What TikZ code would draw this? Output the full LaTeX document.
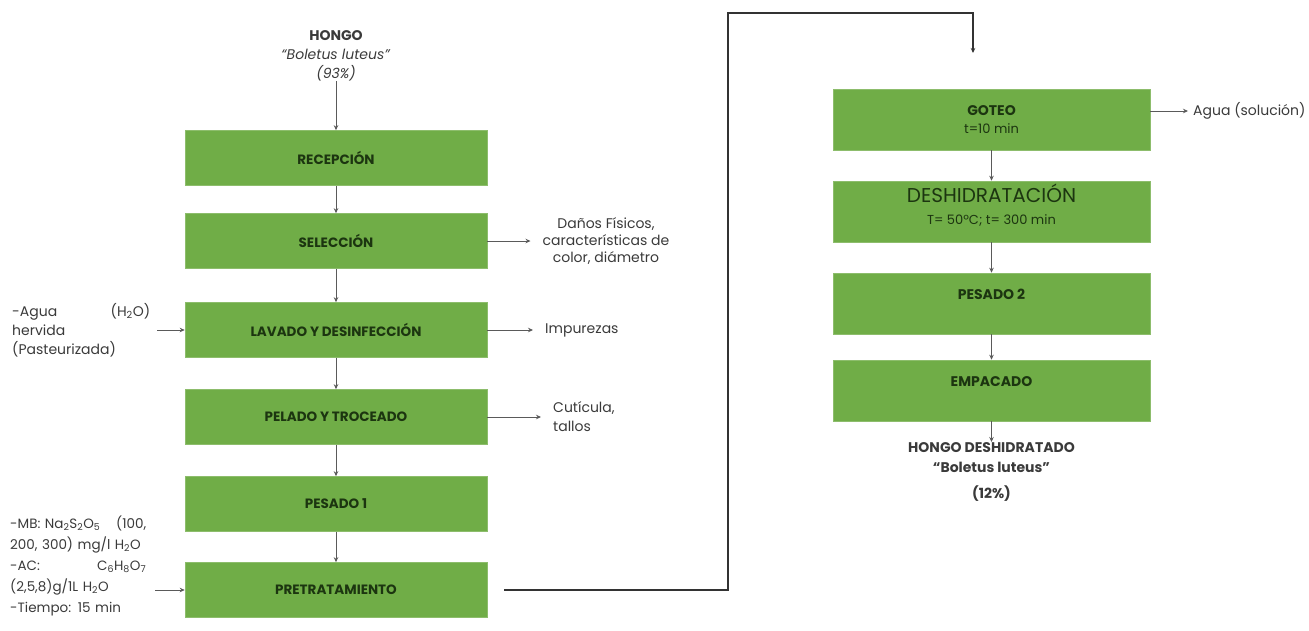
\documentclass[tikz,border=0pt]{standalone}
\usepackage{fontspec}
\setmainfont{Poppins}
\usetikzlibrary{arrows.meta}
\definecolor{procgreen}{HTML}{70AD47}
\definecolor{proctext}{HTML}{1C3510}
\definecolor{notegray}{HTML}{3A3A3A}
\definecolor{flowgray}{HTML}{5A5A5A}
\tikzset{>={Stealth[length=5pt,width=4.5pt]}}
\tikzset{
  procbox/.style={rectangle, fill=procgreen, draw=procgreen!80!white, line width=0.6pt,
    minimum width=302pt, minimum height=55pt, inner sep=0pt,
    font=\fontsize{13.5}{16}\selectfont\bfseries, text=proctext},
  dryrbox/.style={rectangle, fill=procgreen, draw=procgreen!80!white, line width=0.6pt,
    minimum width=317pt, inner sep=0pt, text height=26pt, text depth=35pt, align=center,
    font=\fontsize{14}{18}\selectfont\bfseries, text=proctext},
  note/.style={inner sep=0pt, text=notegray, font=\fontsize{14}{19}\selectfont},
  flow/.style={->, draw=flowgray, line width=0.8pt},
  outflow/.style={flow, shorten >=12pt},
  loopline/.style={->, draw=black!80, line width=1.3pt}
}

\begin{document}
\begin{tikzpicture}[x=1pt, y=-1pt]
    \useasboundingbox (0,0) rectangle (1309,630);
    % left column
    \node[note, align=center] (hongo) at (336,56)
      {\textbf{HONGO}\\\textit{“Boletus luteus”}\\\textit{(93\%)}};
    \node[procbox] (rec)  at (336,158) {RECEPCIÓN};
    \node[procbox] (sel)  at (336,241) {SELECCIÓN};
    \node[procbox] (lav)  at (336,330) {LAVADO Y DESINFECCIÓN};
    \node[procbox] (pel)  at (336,417) {PELADO Y TROCEADO};
    \node[procbox] (pes)  at (336,504) {PESADO 1};
    \node[procbox] (pret) at (336,590) {PRETRATAMIENTO};
    \draw[flow] (hongo) -- (rec);
    \foreach \a/\b in {rec/sel, sel/lav, lav/pel, pel/pes, pes/pret}
      \draw[flow] (\a) -- (\b);
  % inputs and outputs
    \node[note, align=center, font=\fontsize{14}{17}\selectfont] (danos) at (606,241)
      {Daños Físicos,\\características de\\color, diámetro};
    \node[note, anchor=west] (impur) at (545,330) {Impurezas};
    \node[note, anchor=west, align=left] (cuti) at (553,417) {Cutícula,\\tallos};
    \node[note, anchor=west, text width=138pt, align=left] (agua) at (12,330)
      {-Agua\hfill(H\textsubscript{2}O)\\hervida\\(Pasteurizada)};
    \node[note, anchor=west, text width=136pt, align=left, font=\fontsize{13.5}{21}\selectfont]
      (pretin) at (10,566)
      {-MB: Na\textsubscript{2}S\textsubscript{2}O\textsubscript{5}\hfill(100,\\
       200, 300) mg/l H\textsubscript{2}O\\
       -AC:\hfill C\textsubscript{6}H\textsubscript{8}O\textsubscript{7}\\
       (2,5,8)g/1L H\textsubscript{2}O\\
       -Tiempo: 15 min};
    \draw[outflow] (sel.east) -- (sel.east -| danos.west);
    \draw[outflow] (lav.east) -- (lav.east -| impur.west);
    \draw[outflow] (pel.east) -- (pel.east -| cuti.west);
    \draw[flow] ([xshift=7pt]agua.east) -- (lav.west);
    \draw[flow] ([xshift=9pt]pretin.east |- pret.west) -- (pret.west);
    % link to the second column
    \coordinate (loopturn) at (728,13);
    \coordinate (dryin) at (973,53);
    \draw[loopline] ([xshift=17pt]pret.east) -| (loopturn) -| (dryin);
    % right column
    \node[dryrbox, text height=44pt, text depth=17pt] (gote) at (991.5,119.5)
      {GOTEO\\{\mdseries\fontsize{13}{18}\selectfont t=10 min}};
    \node[dryrbox, text height=43pt, text depth=18pt, font=\fontsize{13}{22}\selectfont]
      (desh) at (991.5,211.5)
      {{\fontsize{20}{22}\selectfont DESHIDRATACIÓN}\\T= 50ºC; t= 300 min};
    \node[dryrbox] (pes2) at (991.5,303.5) {PESADO 2};
    \node[dryrbox] (emp)  at (991.5,390.5) {EMPACADO};
    \node[note, anchor=north, align=center, font=\fontsize{14}{20}\selectfont\bfseries]
      (hdes) at (991.5,442)
      {HONGO DESHIDRATADO\\“Boletus luteus”\\[6pt](12\%)};
    \node[note, anchor=west] (aguasol) at (1193,111) {Agua (solución)};
    \foreach \a/\b in {gote/desh, desh/pes2, pes2/emp, emp/hdes}
      \draw[flow] (\a) -- (\b);
    \draw[flow, shorten >=5pt] (gote.east |- aguasol.west) -- (aguasol.west);
\end{tikzpicture}
\end{document}
